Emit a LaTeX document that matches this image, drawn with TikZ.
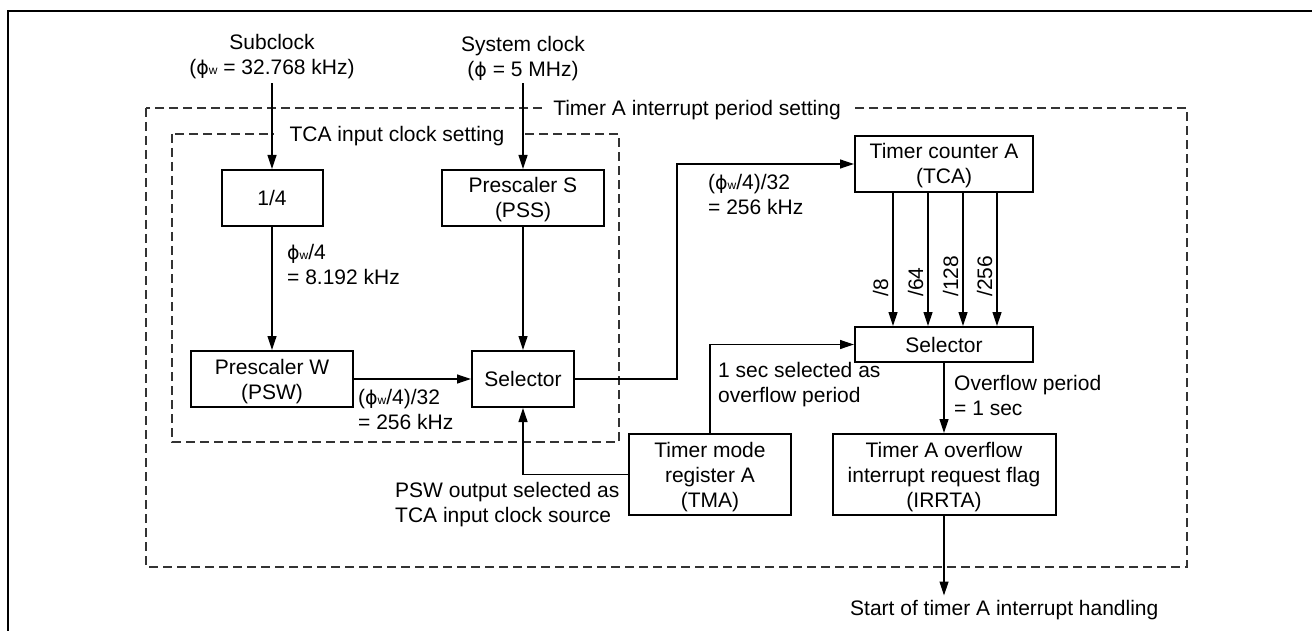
\documentclass[tikz,border=0pt]{standalone}
\usepackage{fontspec}
\setmainfont{Liberation Sans}
\newfontfamily\dvsans{DejaVu Sans}
\usetikzlibrary{arrows.meta}
\newcommand\st{\rule[-5pt]{0pt}{25pt}}
\newcommand\phs{{\dvsans\fontsize{19}{25}\selectfont ϕ}}
\newcommand\phw{\phs{\fontsize{12}{12}\selectfont w}}
\begin{document}
\begin{tikzpicture}[x=1pt,y=-1pt,
  every node/.style={font=\fontsize{21}{25}\selectfont, inner sep=0pt},
  blk/.style={draw, line width=2pt, align=center, fill=white},
  conn/.style={line width=1.2pt, -{Triangle[length=14pt,width=9pt]}},
  grp/.style={draw=black!80, line width=1.2pt, dash pattern=on 9pt off 5pt},
  grplbl/.style={fill=white},
  lbl/.style={align=left, anchor=north west},
  frame/.style={line width=2.7pt}
]
\useasboundingbox (0,0) rectangle (1312,631);
% frame
\draw[frame] (8,631) -- (8,11) -- (1312,11);
% group boxes
\draw[grp] (146,108) rectangle (1187,567);
\draw[grp] (172,134) rectangle (619,442);
\node[grplbl, minimum width=310pt] (outerlbl) at (697,108) {\st Timer A interrupt period setting};
\node[grplbl, minimum width=246pt] (innerlbl) at (397,134) {\st TCA input clock setting};
% blocks
\node[blk, minimum width=101pt, minimum height=56pt] (div) at (272,198) {\st 1/4};
\node[blk, minimum width=162pt, minimum height=56pt] (pss) at (523,198) {\st Prescaler S\\\st (PSS)};
\node[blk, minimum width=162pt, minimum height=56pt] (psw) at (272,379) {\st Prescaler W\\\st (PSW)};
\node[blk, minimum width=102pt, minimum height=56pt] (sel1) at (523,379) {\st Selector};
\node[blk, minimum width=178pt, minimum height=56pt] (tca) at (944,164) {\st Timer counter A\\\st (TCA)};
\node[blk, minimum width=178pt, minimum height=35pt] (sel2) at (944,344.5) {\st Selector};
\node[blk, minimum width=162pt, minimum height=81pt] (tma) at (710,474.5) {\st Timer mode\\\st register A\\\st (TMA)};
\node[blk, minimum width=223pt, minimum height=81pt] (irr) at (944,474.5) {\st Timer A overflow\\\st interrupt request flag\\\st (IRRTA)};
% sources
\node[anchor=north, align=center] (subclk) at (272,29) {\st Subclock\\\st (\phw{} = 32.768 kHz)};
\node[anchor=north, align=center] (sysclk) at (523,31) {\st System clock\\\st (\phs{} = 5 MHz)};
% labels
\node[lbl] (l1) at (287,239.5) {\st \phw/4\\\st = 8.192 kHz};
\node[lbl] (l2) at (358,384.5) {\st (\phw/4)/32\\\st = 256 kHz};
\node[lbl] (l3) at (708,169.5) {\st (\phw/4)/32\\\st = 256 kHz};
\node[lbl] (l4) at (718,357.5) {\st 1 sec selected as\\\st overflow period};
\node[lbl] (l5) at (395,477.5) {\st PSW output selected as\\\st TCA input clock source};
\node[lbl] (l6) at (954,370.5) {\st Overflow period\\\st = 1 sec};
\node[anchor=north west] (start) at (850,595.5) {\st Start of timer A interrupt handling};
% connectors
\draw[conn, shorten <=4pt] (subclk.south) -- (div.north);
\draw[conn, shorten <=2pt] (sysclk.south) -- (pss.north);
\draw[conn] (div.south) -- (psw.north);
\draw[conn] (pss.south) -- (sel1.north);
\draw[conn] (psw.east) -- (sel1.west);
\draw[conn] (sel1.east) -- ++(102,0) |- (tca.west);
\draw[conn] (tma.north) |- (sel2.west);
\draw[conn] (tma.west) -| (sel1.south);
\draw[conn] (sel2.south) -- (irr.north);
\draw[conn] (irr.south) -- (irr.south |- start.north);
\draw[conn] ([xshift=-51pt]tca.south) -- ([xshift=-51pt]sel2.north);
\draw[conn] ([xshift=-16pt]tca.south) -- ([xshift=-16pt]sel2.north);
\draw[conn] ([xshift=19pt]tca.south) -- ([xshift=19pt]sel2.north);
\draw[conn] ([xshift=53pt]tca.south) -- ([xshift=53pt]sel2.north);
\node[rotate=90, anchor=south west] (d8) at (888.5,297) {/8};
\node[rotate=90, anchor=south west] (d64) at (923.5,297) {/64};
\node[rotate=90, anchor=south west] (d128) at (958.5,297) {/128};
\node[rotate=90, anchor=south west] (d256) at (992.5,297) {/256};
\end{tikzpicture}
\end{document}
